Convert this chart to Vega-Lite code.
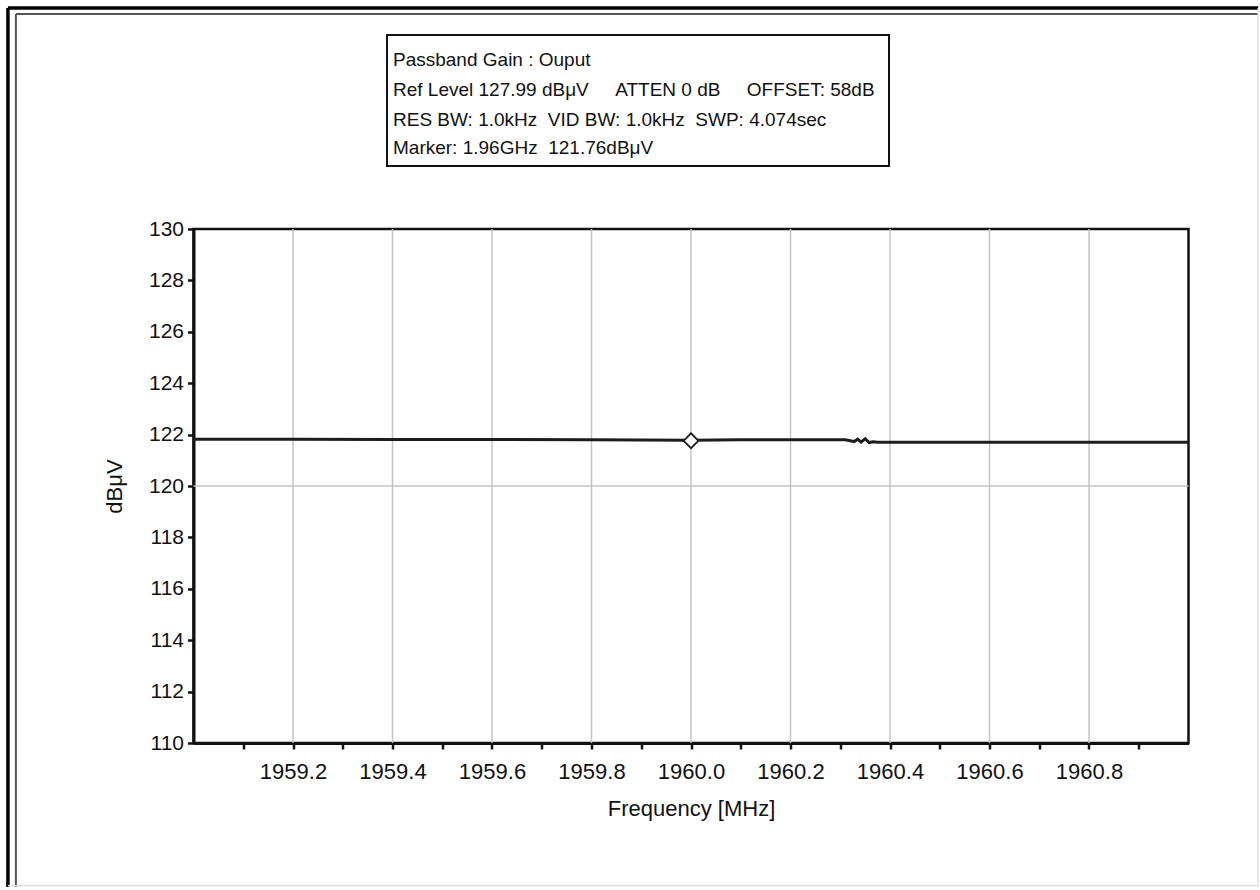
{
  "$schema": "https://vega.github.io/schema/vega-lite/v6.json",
  "width": 995,
  "height": 514,
  "autosize": {"type": "none"},
  "padding": {"left": 193.5, "top": 229, "right": 71.5, "bottom": 147},
  "background": "white",
  "config": {
    "font": "Liberation Sans",
    "view": {"stroke": "#111111", "strokeWidth": 2.5},
    "axis": {
      "domainColor": "#111111",
      "domainWidth": 3,
      "tickColor": "#111111",
      "tickWidth": 2.5,
      "tickSize": 6,
      "grid": false,
      "labelColor": "#111111",
      "labelFont": "Liberation Sans",
      "labelFontSize": 21,
      "titleColor": "#111111",
      "titleFont": "Liberation Sans",
      "titleFontSize": 21,
      "titleFontWeight": "normal"
    }
  },
  "datasets": {
    "trace": [
      {"freq": 1959.0, "level": 121.82},
      {"freq": 1959.2, "level": 121.82},
      {"freq": 1959.4, "level": 121.81},
      {"freq": 1959.6, "level": 121.81},
      {"freq": 1959.8, "level": 121.8},
      {"freq": 1960.0, "level": 121.78},
      {"freq": 1960.1, "level": 121.8},
      {"freq": 1960.2, "level": 121.8},
      {"freq": 1960.31, "level": 121.8},
      {"freq": 1960.32, "level": 121.76},
      {"freq": 1960.328, "level": 121.73},
      {"freq": 1960.335, "level": 121.82},
      {"freq": 1960.342, "level": 121.71},
      {"freq": 1960.35, "level": 121.84},
      {"freq": 1960.358, "level": 121.69},
      {"freq": 1960.366, "level": 121.72},
      {"freq": 1960.375, "level": 121.7},
      {"freq": 1960.5, "level": 121.7},
      {"freq": 1960.7, "level": 121.7},
      {"freq": 1960.9, "level": 121.7},
      {"freq": 1961.0, "level": 121.7}
    ],
    "marker": [{"freq": 1960.0, "level": 121.76}],
    "vgrid": [
      {"freq": 1959.2}, {"freq": 1959.4}, {"freq": 1959.6}, {"freq": 1959.8},
      {"freq": 1960.0}, {"freq": 1960.2}, {"freq": 1960.4}, {"freq": 1960.6}, {"freq": 1960.8}
    ],
    "hgrid": [{"level": 120}],
    "frame": [
      {"edge": "outer", "freq": 1958.627, "freq2": 1958.627, "level": 138.6, "level2": 104.4},
      {"edge": "outer", "freq": 1958.627, "freq2": 1961.14, "level": 138.6, "level2": 138.6},
      {"edge": "inner", "freq": 1958.643, "freq2": 1958.643, "level": 138.37, "level2": 104.4},
      {"edge": "inner", "freq": 1958.643, "freq2": 1961.14, "level": 138.37, "level2": 138.37},
      {"edge": "edge", "freq": 1961.14, "freq2": 1961.14, "level": 138.6, "level2": 104.4},
      {"edge": "edge", "freq": 1958.627, "freq2": 1961.14, "level": 104.45, "level2": 104.45}
    ],
    "box": [{"freq": 1959.389, "freq2": 1960.398, "level": 137.55, "level2": 132.45}],
    "info": [
      {"freq": 1959.401, "level": 136.58, "text": "Passband Gain : Ouput"},
      {"freq": 1959.401, "level": 135.41, "text": "Ref Level 127.99 dBμV\u00a0\u00a0\u00a0\u00a0\u00a0ATTEN 0 dB\u00a0\u00a0\u00a0\u00a0\u00a0OFFSET: 58dB"},
      {"freq": 1959.401, "level": 134.24, "text": "RES BW: 1.0kHz\u00a0\u00a0VID BW: 1.0kHz\u00a0\u00a0SWP: 4.074sec"},
      {"freq": 1959.401, "level": 133.15, "text": "Marker: 1.96GHz\u00a0\u00a0121.76dBμV"}
    ]
  },
  "layer": [
    {
      "data": {"name": "vgrid"},
      "mark": {"type": "rule", "color": "#c4c4c4", "strokeWidth": 1.5},
      "encoding": {
        "x": {
          "field": "freq", "type": "quantitative",
          "scale": {"domain": [1959, 1961], "nice": false, "zero": false},
          "title": "Frequency [MHz]",
          "axis": {
            "values": [1959.1, 1959.2, 1959.3, 1959.4, 1959.5, 1959.6, 1959.7, 1959.8, 1959.9, 1960.0, 1960.1, 1960.2, 1960.3, 1960.4, 1960.5, 1960.6, 1960.7, 1960.8, 1960.9],
            "format": ".1f",
            "labelExpr": "round(datum.value * 10) % 2 == 0 ? datum.label : ''",
            "labelPadding": 12,
            "titlePadding": 16,
            "labelFontSize": 22,
            "titleFontSize": 22
          }
        }
      }
    },
    {
      "data": {"name": "hgrid"},
      "mark": {"type": "rule", "color": "#c4c4c4", "strokeWidth": 1.5},
      "encoding": {
        "y": {
          "field": "level", "type": "quantitative",
          "scale": {"domain": [110, 130], "nice": false, "zero": false},
          "title": "dBμV",
          "axis": {
            "values": [110, 111, 112, 113, 114, 115, 116, 117, 118, 119, 120, 121, 122, 123, 124, 125, 126, 127, 128, 129, 130],
            "labelExpr": "datum.value % 2 == 0 ? datum.label : ''",
            "labelPadding": 4,
            "titlePadding": 22,
            "titleFontSize": 22
          }
        }
      }
    },
    {
      "data": {"name": "trace"},
      "mark": {"type": "line", "color": "#1c1c1c", "strokeWidth": 3, "interpolate": "linear"},
      "encoding": {
        "x": {"field": "freq", "type": "quantitative", "scale": {"domain": [1959, 1961], "nice": false, "zero": false}, "title": "Frequency [MHz]"},
        "y": {"field": "level", "type": "quantitative", "scale": {"domain": [110, 130], "nice": false, "zero": false}, "title": "dBμV"}
      }
    },
    {
      "data": {"name": "marker"},
      "mark": {"type": "point", "shape": "diamond", "size": 220, "filled": false, "fill": "white", "fillOpacity": 1, "stroke": "#1c1c1c", "strokeWidth": 1.8, "opacity": 1},
      "encoding": {
        "x": {"field": "freq", "type": "quantitative", "scale": {"domain": [1959, 1961], "nice": false, "zero": false}, "title": "Frequency [MHz]"},
        "y": {"field": "level", "type": "quantitative", "scale": {"domain": [110, 130], "nice": false, "zero": false}, "title": "dBμV"}
      }
    },
    {
      "data": {"name": "box"},
      "mark": {"type": "rect", "fill": "white", "stroke": "#111111", "strokeWidth": 2},
      "encoding": {
        "x": {"field": "freq", "type": "quantitative", "scale": {"domain": [1959, 1961], "nice": false, "zero": false}, "title": "Frequency [MHz]"},
        "x2": {"field": "freq2"},
        "y": {"field": "level", "type": "quantitative", "scale": {"domain": [110, 130], "nice": false, "zero": false}, "title": "dBμV"},
        "y2": {"field": "level2"}
      }
    },
    {
      "data": {"name": "info"},
      "mark": {"type": "text", "align": "left", "baseline": "middle", "font": "Liberation Sans", "fontSize": 19, "color": "#111111"},
      "encoding": {
        "x": {"field": "freq", "type": "quantitative", "scale": {"domain": [1959, 1961], "nice": false, "zero": false}, "title": "Frequency [MHz]"},
        "y": {"field": "level", "type": "quantitative", "scale": {"domain": [110, 130], "nice": false, "zero": false}, "title": "dBμV"},
        "text": {"field": "text"}
      }
    },
    {
      "data": {"name": "frame"},
      "transform": [{"filter": "datum.edge == 'outer'"}],
      "mark": {"type": "rule", "color": "#000000", "strokeWidth": 3.5},
      "encoding": {
        "x": {"field": "freq", "type": "quantitative", "scale": {"domain": [1959, 1961], "nice": false, "zero": false}, "title": "Frequency [MHz]"},
        "x2": {"field": "freq2"},
        "y": {"field": "level", "type": "quantitative", "scale": {"domain": [110, 130], "nice": false, "zero": false}, "title": "dBμV"},
        "y2": {"field": "level2"}
      }
    },
    {
      "data": {"name": "frame"},
      "transform": [{"filter": "datum.edge == 'inner'"}],
      "mark": {"type": "rule", "color": "#555555", "strokeWidth": 2},
      "encoding": {
        "x": {"field": "freq", "type": "quantitative", "scale": {"domain": [1959, 1961], "nice": false, "zero": false}, "title": "Frequency [MHz]"},
        "x2": {"field": "freq2"},
        "y": {"field": "level", "type": "quantitative", "scale": {"domain": [110, 130], "nice": false, "zero": false}, "title": "dBμV"},
        "y2": {"field": "level2"}
      }
    },
    {
      "data": {"name": "frame"},
      "transform": [{"filter": "datum.edge == 'edge'"}],
      "mark": {"type": "rule", "color": "#e2e2e2", "strokeWidth": 1.5},
      "encoding": {
        "x": {"field": "freq", "type": "quantitative", "scale": {"domain": [1959, 1961], "nice": false, "zero": false}, "title": "Frequency [MHz]"},
        "x2": {"field": "freq2"},
        "y": {"field": "level", "type": "quantitative", "scale": {"domain": [110, 130], "nice": false, "zero": false}, "title": "dBμV"},
        "y2": {"field": "level2"}
      }
    }
  ]
}
